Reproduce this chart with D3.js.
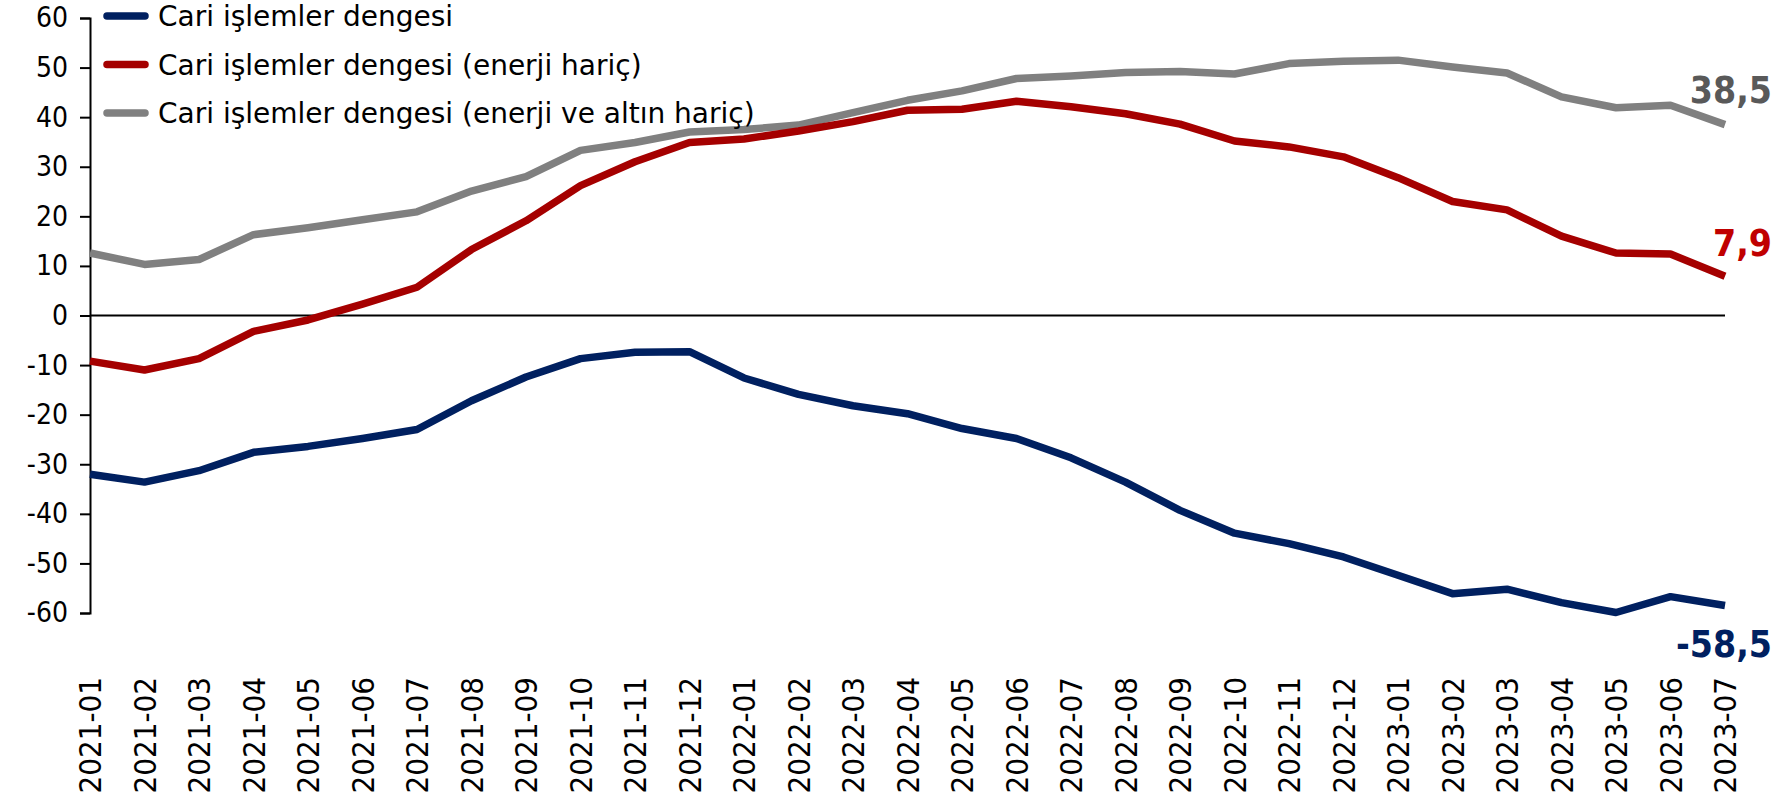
<!DOCTYPE html>
<html>
<head>
<meta charset="utf-8">
<script src="https://cdn.jsdelivr.net/npm/d3@7"></script>
<style>
  html, body { margin: 0; padding: 0; background: #ffffff; }
  svg { display: block; }
  text { font-family: "DejaVu Sans Condensed", "DejaVu Sans", sans-serif; font-stretch: condensed; }
  text.legend-text { font-family: "DejaVu Sans", sans-serif; font-stretch: normal; }
</style>
</head>
<body>
<svg id="chart" width="1785" height="795"></svg>
<script>
const categories = [
  "2021-01","2021-02","2021-03","2021-04","2021-05","2021-06","2021-07","2021-08","2021-09","2021-10","2021-11","2021-12",
  "2022-01","2022-02","2022-03","2022-04","2022-05","2022-06","2022-07","2022-08","2022-09","2022-10","2022-11","2022-12",
  "2023-01","2023-02","2023-03","2023-04","2023-05","2023-06","2023-07"
];
const cariDenge = [
  -32.0,-33.6,-31.3,-27.6,-26.4,-24.8,-23.0,-17.2,-12.4,-8.7,-7.4,-7.3,
  -12.6,-15.9,-18.2,-19.8,-22.8,-24.8,-28.7,-33.6,-39.3,-43.9,-46.0,-48.7,
  -52.4,-56.1,-55.2,-57.9,-59.9,-56.7,-58.5
];
const enerjiHaric = [
  -9.2,-11.0,-8.7,-3.2,-0.9,2.3,5.7,13.3,19.1,26.2,31.0,34.9,
  35.6,37.2,39.1,41.4,41.6,43.2,42.1,40.7,38.6,35.2,34.0,32.0,
  27.8,23.0,21.3,16.0,12.6,12.4,7.9
];
const enerjiAltinHaric = [
  12.6,10.3,11.3,16.3,17.7,19.3,20.9,25.1,28.0,33.3,34.9,37.0,
  37.5,38.4,40.9,43.4,45.3,47.8,48.3,49.0,49.2,48.7,50.8,51.3,
  51.5,50.1,48.9,44.1,41.9,42.4,38.5
];
const seriesNames = [
  "Cari işlemler dengesi",
  "Cari işlemler dengesi (enerji hariç)",
  "Cari işlemler dengesi (enerji ve altın hariç)"
];
const endLabels = ["-58,5", "7,9", "38,5"];
const yTicks = [60, 50, 40, 30, 20, 10, 0, -10, -20, -30, -40, -50, -60];

const colors = ["#002060", "#A50000", "#808080"];
const labelColors = ["#002060", "#C00000", "#595959"];
const labelDy = [51, -20, -22];

const svg = d3.select("#chart");
const x = d3.scalePoint().domain(categories).range([90, 1725]);
const y = d3.scaleLinear().domain([-60, 60]).range([613, 18]);

// Y axis
const yAxis = d3.axisLeft(y).tickValues(yTicks).tickSize(10).tickPadding(12).tickFormat(d3.format("d"));
const yg = svg.append("g").attr("transform", "translate(90,0)").call(yAxis);
yg.select(".domain").attr("stroke", "#000").attr("stroke-width", 2);
yg.selectAll(".tick line").attr("stroke", "#000").attr("stroke-width", 2);
yg.selectAll(".tick text").attr("font-size", 28).attr("fill", "#000")
  .style("font-family", '"DejaVu Sans Condensed", "DejaVu Sans", sans-serif')
  .text(d => d < 0 ? "-" + Math.abs(d) : d);

// Zero line
svg.append("line")
  .attr("x1", x(categories[0])).attr("x2", x(categories[categories.length - 1]))
  .attr("y1", y(0)).attr("y2", y(0))
  .attr("stroke", "#000").attr("stroke-width", 2);

// X labels
svg.append("g").selectAll("text").data(categories).enter().append("text")
  .attr("transform", d => `translate(${x(d)},677) rotate(-90)`)
  .attr("text-anchor", "end")
  .attr("dy", "0.36em")
  .attr("font-size", 31)
  .attr("fill", "#000")
  .text(d => d);

// Lines
const allSeries = [cariDenge, enerjiHaric, enerjiAltinHaric];
const line = d3.line().x((d, i) => x(categories[i])).y(d => y(d));
const drawOrder = [2, 1, 0];
drawOrder.forEach(k => {
  svg.append("path")
    .datum(allSeries[k])
    .attr("d", line)
    .attr("fill", "none")
    .attr("stroke", colors[k])
    .attr("stroke-width", 7.5)
    .attr("stroke-linejoin", "round");
});

// End labels
allSeries.forEach((s, k) => {
  const last = s[s.length - 1];
  svg.append("text")
    .attr("x", 1772)
    .attr("y", y(last) + labelDy[k])
    .attr("text-anchor", "end")
    .attr("font-size", 37)
    .attr("font-weight", "bold")
    .attr("fill", labelColors[k])
    .text(endLabels[k]);
});

// Legend
const legend = svg.append("g");
seriesNames.forEach((name, k) => {
  const ly = 16 + k * 48.5;
  legend.append("line")
    .attr("x1", 107).attr("x2", 145)
    .attr("y1", ly).attr("y2", ly)
    .attr("stroke", colors[k]).attr("stroke-width", 7.5)
    .attr("stroke-linecap", "round");
  legend.append("text")
    .attr("class", "legend-text")
    .attr("x", 158).attr("y", ly)
    .attr("dy", "0.36em")
    .attr("font-size", 28)
    .attr("fill", "#000")
    .text(name);
});
</script>
</body>
</html>
